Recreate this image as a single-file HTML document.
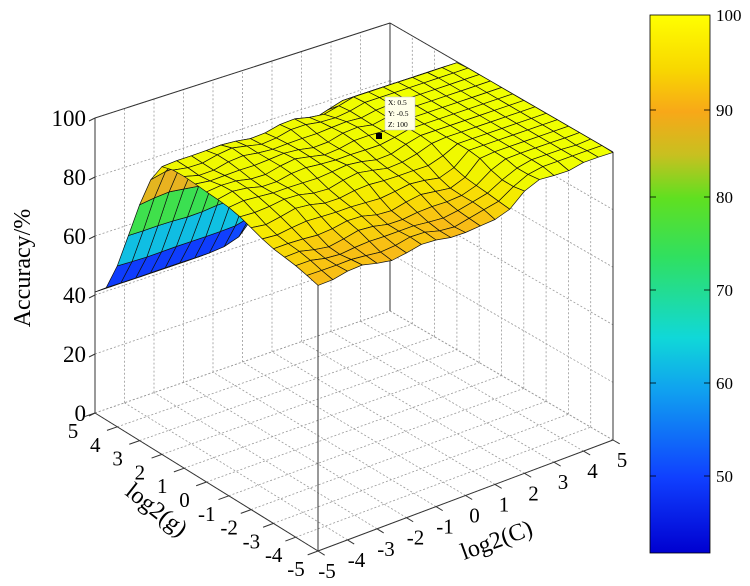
<!DOCTYPE html>
<html><head><meta charset="utf-8"><style>
html,body{margin:0;padding:0;background:#fff;}
svg{display:block;font-family:"Liberation Serif",serif;}
</style></head><body>
<svg id="s" width="750" height="586" viewBox="0 0 750 586" xmlns="http://www.w3.org/2000/svg">
<defs>
<linearGradient id="cb" x1="0" y1="1" x2="0" y2="0">
<stop offset="0" stop-color="#0000d0"/>
<stop offset="0.14" stop-color="#1040ff"/>
<stop offset="0.30" stop-color="#10a0f0"/>
<stop offset="0.40" stop-color="#10d8d8"/>
<stop offset="0.55" stop-color="#30e060"/>
<stop offset="0.66" stop-color="#60e020"/>
<stop offset="0.74" stop-color="#c8c020"/>
<stop offset="0.82" stop-color="#f8a818"/>
<stop offset="0.90" stop-color="#f8d800"/>
<stop offset="1" stop-color="#ffff00"/>
</linearGradient>
</defs>
<g id="grid"></g>
<g id="surf"></g>
<g id="fg"></g>
<rect x="650" y="15" width="60" height="538" fill="url(#cb)" stroke="#000" stroke-width="0.8"/>
<g font-size="17" fill="#000">
<text x="716" y="21">100</text>
<text x="716" y="116">90</text>
<text x="716" y="203">80</text>
<text x="716" y="296">70</text>
<text x="716" y="389">60</text>
<text x="716" y="482">50</text>
</g>
<g stroke="#000" stroke-width="0.8">
<line x1="650" y1="110" x2="656" y2="110"/><line x1="704" y1="110" x2="710" y2="110"/>
<line x1="650" y1="197" x2="656" y2="197"/><line x1="704" y1="197" x2="710" y2="197"/>
<line x1="650" y1="290" x2="656" y2="290"/><line x1="704" y1="290" x2="710" y2="290"/>
<line x1="650" y1="383" x2="656" y2="383"/><line x1="704" y1="383" x2="710" y2="383"/>
<line x1="650" y1="476" x2="656" y2="476"/><line x1="704" y1="476" x2="710" y2="476"/>
</g>
<text x="30" y="268" font-size="24" transform="rotate(-90 30 268)" text-anchor="middle">Accuracy/%</text>
<text x="124" y="494" font-size="24" transform="rotate(38 124 494)">log2(g)</text>
<text x="464" y="560" font-size="24" transform="rotate(-20 464 560)">log2(C)</text>
</svg>
<script>
var NS="http://www.w3.org/2000/svg";
function P(C,g,z){var a=C+5,b=g+5;return [318+a*29.5-b*22.3, 551-a*11.1-b*13.8+a*b*0.09-z*(2.95-a*0.007)];}
function el(p,t,a){var e=document.createElementNS(NS,t);for(var k in a)e.setAttribute(k,a[k]);p.appendChild(e);return e;}
function sig(x){return 1/(1+Math.exp(-x));}
function Z(C,g){
 var base=90.5+9*sig((C-1.8)*4)+8*sig((g+2.5)*1.5);
 base+=0.6*Math.sin(C*2.3+g*1.7)+0.5*Math.cos(C*3.1-g*2.2);
 if(base>100)base=100;
 var t=Math.max(0,Math.min(1,(g-1.8)/3.2));var d=t*t*(3-2*t);
 var lowv=41+28*sig((C-0.3)*3);
 return base*(1-d)+lowv*d;
}
function col(z){
 var st=[[42,[0,0,208]],[50,[16,64,255]],[58,[16,160,240]],[63,[16,216,216]],[72,[48,224,96]],[78,[96,224,32]],[83,[200,192,32]],[88,[248,172,32]],[91,[248,192,20]],[94,[248,230,0]],[97,[240,245,0]],[100,[240,255,0]]];
 if(z<=42)return "rgb(0,0,208)";
 for(var i=1;i<st.length;i++){if(z<=st[i][0]){var a=st[i-1],b=st[i],t=(z-a[0])/(b[0]-a[0]);
 return "rgb("+[0,1,2].map(function(k){return Math.round(a[1][k]+(b[1][k]-a[1][k])*t)}).join(",")+")";}}
 return "rgb(240,255,0)";
}
var G=document.getElementById("grid"),S=document.getElementById("surf"),F=document.getElementById("fg");
function L(p,a,b,dash){var q={x1:a[0],y1:a[1],x2:b[0],y2:b[1],stroke:dash?"#999":"#333","stroke-width":dash?0.8:1};if(dash)q["stroke-dasharray"]="2,2";el(p,"line",q);}
for(var i=-5;i<=5;i++){L(G,P(i,-5,0),P(i,5,0),1);L(G,P(-5,i,0),P(5,i,0),1);}
for(var i=-5;i<=5;i++){L(G,P(i,5,0),P(i,5,100),1);L(G,P(5,i,0),P(5,i,100),1);}
for(var z=0;z<=100;z+=20){L(G,P(-5,5,z),P(5,5,z),1);L(G,P(5,5,z),P(5,-5,z),1);}
L(G,P(-5,5,0),P(-5,5,100));L(G,P(5,5,0),P(5,5,100));L(G,P(5,-5,0),P(5,-5,100));
L(G,P(-5,5,100),P(5,5,100));L(G,P(5,5,100),P(5,-5,100));
L(G,P(-5,5,0),P(-5,-5,0));L(G,P(-5,-5,0),P(5,-5,0));
L(G,P(-5,-5,0),P(-5,-5,Z(-5,-5)));
var q=[];
for(var a=0;a<20;a++)for(var b=0;b<20;b++){var C0=-5+a*0.5,g0=-5+b*0.5,C1=C0+0.5,g1=g0+0.5;
 var zs=[Z(C0,g0),Z(C1,g0),Z(C1,g1),Z(C0,g1)];q.push({d:C0+g0,pts:[P(C0,g0,zs[0]),P(C1,g0,zs[1]),P(C1,g1,zs[2]),P(C0,g1,zs[3])],z:(zs[0]+zs[1]+zs[2]+zs[3])/4});}
q.sort(function(u,v){return v.d-u.d;});
q.forEach(function(o){el(S,"polygon",{points:o.pts.map(function(p){return p[0].toFixed(1)+","+p[1].toFixed(1)}).join(" "),fill:col(o.z),stroke:"#111","stroke-width":0.7,"stroke-linejoin":"round"});});
for(var i=-5;i<=5;i++){
 var a=P(-5,i,0),t=P(-5-0.35,i,0);L(F,a,t);
 el(F,"text",{x:a[0]-22,y:a[1]+25,"font-size":21,"text-anchor":"middle"}).textContent=i;
 var b=P(i,-5,0),u=P(i,-5-0.3,0);L(F,b,u);
 el(F,"text",{x:b[0]+9,y:b[1]+27,"font-size":21,"text-anchor":"middle"}).textContent=i;
}
for(var z=0;z<=100;z+=20){var a=P(-5,5,z);L(F,a,[a[0]-6,a[1]+3]);
 el(F,"text",{x:a[0]-9,y:a[1]+8,"font-size":23,"text-anchor":"end"}).textContent=z;}
el(F,"rect",{x:385,y:97,width:30,height:33,fill:"#ffffe8",stroke:"#ccc","stroke-width":0.6});
[["X: 0.5",105],["Y: -0.5",116],["Z: 100",127]].forEach(function(r){el(F,"text",{x:388,y:r[1],"font-size":7.5}).textContent=r[0];});
el(F,"rect",{x:376,y:133,width:6,height:6,fill:"#000"});
</script>
</body></html>
